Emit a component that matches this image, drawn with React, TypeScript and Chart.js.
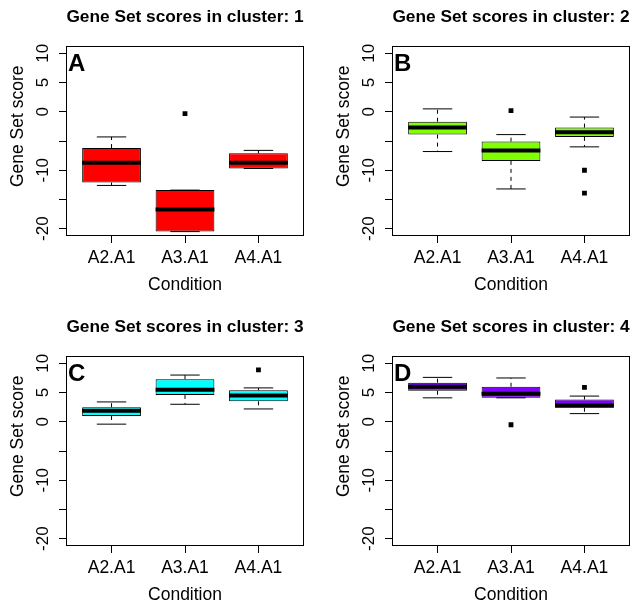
import React, { useEffect, useRef } from 'react';
import { Chart, registerables } from 'chart.js';

Chart.register(...registerables);

const FONT = '"Liberation Sans", Arial, Helvetica, sans-serif';

// ---- shared categories / axes ----
const CONDITIONS = ['A2.A1', 'A3.A1', 'A4.A1'];
const CONDITION_POS = [1, 2, 3];
const X_MIN = 0.38;
const X_MAX = 3.62;
const Y_MIN = -21.25;
const Y_MAX = 11.3;
const Y_TICKS = [-20, -15, -10, -5, 0, 5, 10];
const Y_TICK_LABELS = ['-20', '', '-10', '', '0', '5', '10'];

const PANEL_TITLES = [
  'Gene Set scores in cluster: 1',
  'Gene Set scores in cluster: 2',
  'Gene Set scores in cluster: 3',
  'Gene Set scores in cluster: 4',
];
const PANEL_LETTERS = ['A', 'B', 'C', 'D'];
const PANEL_COLORS = ['#FF0000', '#80FF00', '#00FFFF', '#8000FF'];

// ---- cluster 1 ----
const C1_LOW = [-12.6, -20.5, -9.7];
const C1_Q1 = [-12.1, -20.5, -9.7];
const C1_MED = [-8.7, -16.7, -8.7];
const C1_Q3 = [-6.2, -13.4, -7.1];
const C1_HIGH = [-4.3, -13.4, -6.6];
const C1_OUT = [[], [-0.3], []];

// ---- cluster 2 ----
const C2_LOW = [-6.8, -13.2, -6.0];
const C2_Q1 = [-3.9, -8.4, -4.3];
const C2_MED = [-2.7, -6.6, -3.5];
const C2_Q3 = [-1.7, -5.1, -2.7];
const C2_HIGH = [0.5, -3.9, -0.9];
const C2_OUT = [[], [0.2], [-10.0, -13.9]];

// ---- cluster 3 ----
const C3_LOW = [-0.4, 3.0, 2.2];
const C3_Q1 = [1.0, 4.6, 3.5];
const C3_MED = [1.9, 5.5, 4.5];
const C3_Q3 = [2.5, 7.3, 5.4];
const C3_HIGH = [3.4, 8.0, 5.8];
const C3_OUT = [[], [], [8.9]];

// ---- cluster 4 ----
const C4_LOW = [4.1, 4.1, 1.4];
const C4_Q1 = [5.3, 4.1, 2.4];
const C4_MED = [6.0, 4.8, 2.8];
const C4_Q3 = [6.7, 6.0, 3.8];
const C4_HIGH = [7.6, 7.5, 4.4];
const C4_OUT = [[], [-0.5], [5.9]];

const CLUSTERS = [
  { low: C1_LOW, q1: C1_Q1, med: C1_MED, q3: C1_Q3, high: C1_HIGH, out: C1_OUT },
  { low: C2_LOW, q1: C2_Q1, med: C2_MED, q3: C2_Q3, high: C2_HIGH, out: C2_OUT },
  { low: C3_LOW, q1: C3_Q1, med: C3_MED, q3: C3_Q3, high: C3_HIGH, out: C3_OUT },
  { low: C4_LOW, q1: C4_Q1, med: C4_MED, q3: C4_Q3, high: C4_HIGH, out: C4_OUT },
];

const CANVAS_W = 309;
const CANVAS_H = 297;
const PANEL_POS = [
  { left: 0, top: 0 },
  { left: 326, top: 0 },
  { left: 0, top: 310 },
  { left: 326, top: 310 },
];

function Panel({ index }: { index: number }) {
  const ref = useRef<HTMLCanvasElement | null>(null);

  useEffect(() => {
    if (!ref.current) return;
    const d = CLUSTERS[index];
    const pos = CONDITION_POS;

    const outliers = d.out.flatMap((arr: number[], i: number) => arr.map((v) => ({ x: pos[i], y: v })));
    const medians = pos.map((p, i) => ({ x: p, y: d.med[i] }));
    const caps = pos.flatMap((p, i) => [
      { x: p, y: d.low[i] },
      { x: p, y: d.high[i] },
    ]);
    const whiskers: any[] = [];
    pos.forEach((p, i) => {
      whiskers.push(
        { x: p, y: d.q3[i] },
        { x: p, y: d.high[i] },
        { x: p, y: null },
        { x: p, y: d.q1[i] },
        { x: p, y: d.low[i] },
        { x: p, y: null }
      );
    });
    const boxes = pos.map((p, i) => ({ x: p, y: [d.q1[i], d.q3[i]] }));

    const letter = PANEL_LETTERS[index];
    const framePlugin = {
      id: 'frameAndLetter',
      afterDraw(chart: any) {
        const { ctx, chartArea: a } = chart;
        ctx.save();
        ctx.strokeStyle = '#000';
        ctx.lineWidth = 1;
        ctx.strokeRect(Math.round(a.left) + 0.5, Math.round(a.top) + 0.5, Math.round(a.right - a.left) - 1, Math.round(a.bottom - a.top) - 1);
        ctx.fillStyle = '#000';
        ctx.font = 'bold 24px ' + FONT;
        ctx.textAlign = 'left';
        ctx.textBaseline = 'alphabetic';
        ctx.fillText(letter, a.left + 2, a.top + 25);
        ctx.restore();
      },
    };

    const chart = new Chart(ref.current, {
      type: 'bar',
      data: {
        datasets: [
          {
            type: 'scatter',
            data: outliers,
            pointStyle: 'rect',
            pointRadius: 3.4,
            pointBackgroundColor: '#000',
            pointBorderWidth: 0,
            pointBorderColor: '#000',
          } as any,
          {
            type: 'scatter',
            data: medians,
            pointStyle: 'line',
            pointRadius: 29.4,
            pointBorderWidth: 4,
            pointBorderColor: '#000',
          } as any,
          {
            type: 'scatter',
            data: caps,
            pointStyle: 'line',
            pointRadius: 14.7,
            pointBorderWidth: 1,
            pointBorderColor: '#000',
          } as any,
          {
            type: 'line',
            data: whiskers,
            borderColor: '#000',
            borderWidth: 1,
            borderDash: [4, 4],
            pointRadius: 0,
            fill: false,
            spanGaps: false,
          } as any,
          {
            type: 'bar',
            data: boxes,
            backgroundColor: PANEL_COLORS[index],
            borderColor: '#000',
            borderWidth: 1,
            borderSkipped: false,
            categoryPercentage: 1,
            barPercentage: 0.8,
          } as any,
        ],
      },
      options: {
        responsive: false,
        animation: false,
        events: [],
        layout: { autoPadding: false, padding: { left: 0, top: 0, right: 5, bottom: 0 } },
        plugins: {
          legend: { display: false },
          tooltip: { enabled: false },
          title: {
            display: true,
            text: PANEL_TITLES[index],
            fullSize: false,
            color: '#000',
            font: { family: FONT, size: 17.3, weight: 'bold', lineHeight: 1.2 },
            padding: { top: 7, bottom: 18 },
          },
        },
        scales: {
          x: {
            type: 'linear',
            min: X_MIN,
            max: X_MAX,
            offset: false,
            afterBuildTicks: (s: any) => {
              s.ticks = CONDITION_POS.map((v) => ({ value: v }));
            },
            afterFit: (s: any) => {
              s.height = 61;
            },
            ticks: {
              autoSkip: false,
              minRotation: 0,
              maxRotation: 0,
              padding: 5,
              color: '#000',
              font: { family: FONT, size: 17.5 },
              callback: (v: any) => {
                const k = CONDITION_POS.indexOf(v);
                return k >= 0 ? CONDITIONS[k] : '';
              },
            },
            grid: { drawOnChartArea: false, drawTicks: true, tickLength: 7, color: '#000', lineWidth: 1, offset: false },
            border: { display: false },
            title: {
              display: true,
              text: 'Condition',
              color: '#000',
              font: { family: FONT, size: 17.5, lineHeight: 1.2 },
              padding: { top: 0, bottom: 1 },
            },
          },
          y: {
            type: 'linear',
            min: Y_MIN,
            max: Y_MAX,
            afterBuildTicks: (s: any) => {
              s.ticks = Y_TICKS.map((v) => ({ value: v }));
            },
            afterFit: (s: any) => {
              s.width = 66;
            },
            ticks: {
              autoSkip: false,
              minRotation: 90,
              maxRotation: 90,
              crossAlign: 'center',
              padding: 3,
              color: '#000',
              font: { family: FONT, size: 17 },
              callback: (v: any) => {
                const k = Y_TICKS.indexOf(v);
                return k >= 0 ? Y_TICK_LABELS[k] : '';
              },
            },
            grid: { drawOnChartArea: false, drawTicks: true, tickLength: 7, color: '#000', lineWidth: 1 },
            border: { display: false },
            title: {
              display: true,
              text: '      Gene Set score',
              color: '#000',
              font: { family: FONT, size: 17.5, lineHeight: 1.2 },
              padding: { top: 8, bottom: 0 },
            },
          },
        },
      } as any,
      plugins: [framePlugin],
    });

    return () => chart.destroy();
  }, [index]);

  const p = PANEL_POS[index];
  return (
    <canvas
      ref={ref}
      width={CANVAS_W}
      height={CANVAS_H}
      style={{ position: 'absolute', left: p.left, top: p.top, width: CANVAS_W, height: CANVAS_H, display: 'block' }}
    />
  );
}

export default function App() {
  return (
    <div style={{ position: 'absolute', left: 0, top: 0, width: 635, height: 607, background: '#fff', overflow: 'hidden' }}>
      {[0, 1, 2, 3].map((i) => (
        <Panel key={i} index={i} />
      ))}
    </div>
  );
}
